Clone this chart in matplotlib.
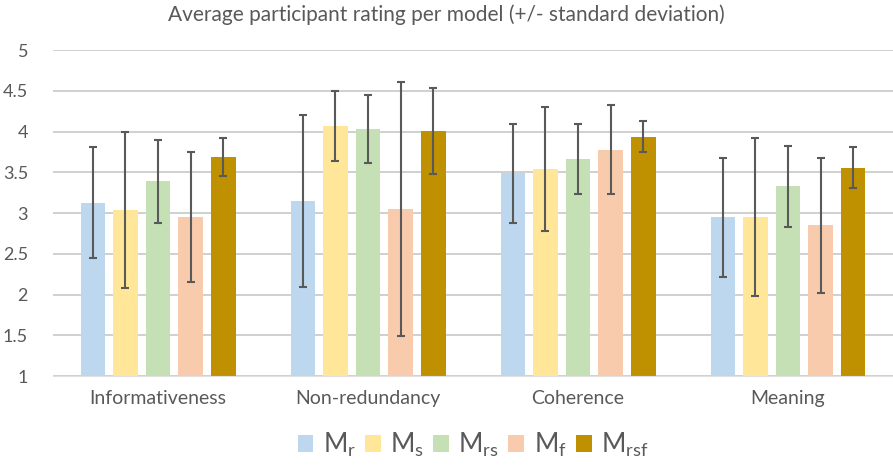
import matplotlib.pyplot as plt
import numpy as np

plt.rcParams['font.family'] = ['Lato', 'DejaVu Sans']

categories = ['Informativeness', 'Non-redundancy', 'Coherence', 'Meaning']
models = ['$\\mathregular{M_{r}}$', '$\\mathregular{M_{s}}$', '$\\mathregular{M_{rs}}$',
          '$\\mathregular{M_{f}}$', '$\\mathregular{M_{rsf}}$']
colors = ['#BDD7EE', '#FFE699', '#C5E0B4', '#F8CBAD', '#BF9000']

# mean rating per model, one list per model (order follows categories)
m_r = [3.13, 3.15, 3.49, 2.95]
m_s = [3.04, 4.07, 3.54, 2.95]
m_rs = [3.39, 4.03, 3.66, 3.33]
m_f = [2.95, 3.05, 3.78, 2.85]
m_rsf = [3.69, 4.01, 3.94, 3.56]

# standard deviations
sd_r = [0.68, 1.06, 0.61, 0.73]
sd_s = [0.96, 0.43, 0.76, 0.97]
sd_rs = [0.51, 0.42, 0.43, 0.50]
sd_f = [0.80, 1.56, 0.55, 0.83]
sd_rsf = [0.23, 0.53, 0.19, 0.25]

means = [m_r, m_s, m_rs, m_f, m_rsf]
sds = [sd_r, sd_s, sd_rs, sd_f, sd_rsf]

fig = plt.figure(figsize=(8.93, 4.65), dpi=100)
ax = fig.add_axes([0.0594, 0.191, 0.9406, 0.701])

x = np.arange(len(categories))
width = 0.118
pitch = 0.155
for i in range(len(models)):
    pos = x + (i - 2) * pitch
    vals = np.array(means[i])
    ax.bar(pos, vals - 1, width, bottom=1, color=colors[i], label=models[i], zorder=2)
    ax.errorbar(pos, vals, yerr=sds[i], fmt='none', ecolor='#595959', elinewidth=1.5,
                capsize=3, capthick=1.5, zorder=3)

ax.set_ylim(1, 5)
ax.set_xlim(-0.5, 3.5)
ax.set_yticks(np.arange(1, 5.01, 0.5))
ax.set_yticklabels(['1', '1.5', '2', '2.5', '3', '3.5', '4', '4.5', '5'])
ax.set_xticks(x)
ax.set_xticklabels(categories)
ax.grid(axis='y', color='#C8C8C8', linewidth=1.2, zorder=0)
for s in ['top', 'right', 'left']:
    ax.spines[s].set_visible(False)
ax.spines['bottom'].set_color('#E0E0E0')
ax.tick_params(axis='y', length=0, labelsize=13, labelcolor='#595959', pad=18)
ax.tick_params(axis='x', length=0, labelsize=14, labelcolor='#595959', pad=10)

fig.suptitle('Average participant rating per model (+/- standard deviation)',
             fontsize=15, color='#595959', y=0.99)

ax.legend(loc='center', bbox_to_anchor=(0.5, -0.21), ncol=5, frameon=False,
          fontsize=19, labelcolor='#595959', handlelength=0.6, handleheight=0.6,
          handletextpad=0.35, columnspacing=0.35, borderpad=0.1)

fig.savefig('out.png', dpi=100)
